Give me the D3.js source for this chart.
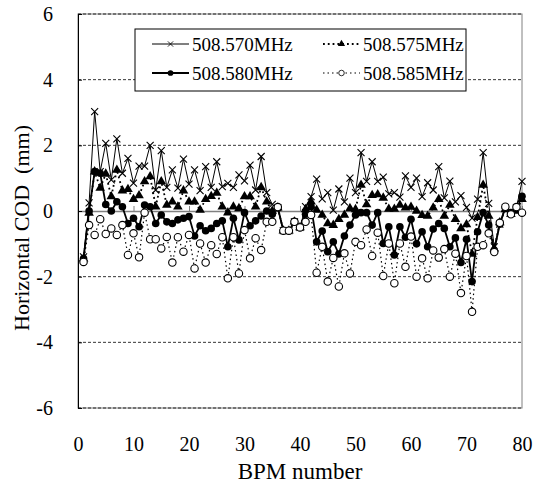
<!DOCTYPE html>
<html>
<head>
<meta charset="utf-8">
<script src="https://cdn.jsdelivr.net/npm/d3@7"></script>
<style>
  body { margin: 0; background: #fff; }
</style>
</head>
<body>
<div id="chart"></div>
<script>
// BPM index on x, horizontal closed orbit distortion (mm) on y
const bpm = [1,2,3,4,5,6,7,8,9,10,11,12,13,14,15,16,17,18,19,20,
  21,22,23,24,25,26,27,28,29,30,31,32,33,34,35,36,37,38,39,40,
  41,42,43,44,45,46,47,48,49,50,51,52,53,54,55,56,57,58,59,60,
  61,62,63,64,65,66,67,68,69,70,71,72,73,74,75,76,77,78,79,80];

const cod570 = [-1.4,0.25,3.03,1.2,2.06,0.95,2.2,1.15,1.6,0.85,
  1.37,1.37,2.0,0.64,1.84,0.72,1.25,0.7,1.58,0.82,
  1.25,0.62,1.35,0.72,1.5,0.74,0.84,0.72,1.1,0.92,
  1.4,0.64,1.66,0.56,0.2,0.1,-0.6,-0.6,-0.33,-0.5,
  0.13,0.44,0.97,0.37,0.56,0.03,0.67,0.28,1.0,0.56,
  1.78,0.9,1.5,0.9,1.03,0.52,0.56,0.42,1.07,0.72,
  1.0,0.44,0.86,0.64,1.35,0.4,0.91,0.28,0.47,0.11,
  -0.22,0.36,1.78,0.23,-1.09,-0.4,0.1,-0.05,0.1,0.9];

const cod575 = [-1.45,-0.06,1.2,0.7,1.13,0.44,1.25,0.62,0.66,0.36,
  0.47,0.9,1.05,0.13,0.9,0.18,0.28,0.13,0.62,0.28,
  0.28,0.03,0.36,0.45,0.55,0.13,-0.05,0.13,0.08,0.44,
  0.44,0.13,0.72,0.28,0.0,0.1,-0.6,-0.6,-0.33,-0.5,
  0.05,0.28,0.03,-0.12,-0.38,-0.43,-0.25,-0.12,0.08,0.05,
  0.79,0.2,0.48,0.5,0.4,0.06,0.06,0.18,0.1,0.12,
  0.0,-0.13,-0.15,0.1,0.36,-0.15,0.18,-0.25,-0.53,-0.41,
  -1.31,-0.19,0.79,-0.15,-1.15,-0.35,0.05,-0.1,0.0,0.36];

const cod580 = [-1.45,0.0,1.2,1.15,0.2,0.0,0.28,0.13,-0.38,-0.22,
  -0.48,0.18,0.13,-0.38,-0.12,-0.33,-0.38,-0.27,-0.22,-0.17,
  -0.76,-0.45,-0.6,-0.53,-0.38,-0.3,-1.09,-0.22,-0.88,-0.05,
  -0.45,-0.3,-0.15,0.0,-0.1,0.1,-0.6,-0.6,-0.33,-0.5,
  -0.1,0.13,-0.94,-0.61,-1.24,-0.94,-1.31,-0.76,-0.43,-0.12,
  -0.05,-0.05,-0.43,-0.05,-0.99,-0.48,-1.34,-0.48,-0.8,-0.25,
  -1.0,-0.63,-1.09,-0.55,-0.38,-0.53,-1.09,-0.82,-1.57,-0.86,
  -2.15,-0.63,-0.05,-0.43,-1.2,-0.4,0.1,-0.05,0.06,0.45];

const cod585 = [-1.55,-0.43,-0.73,-0.25,-0.7,-0.53,-0.73,-0.43,-1.34,-0.68,
  -1.41,-0.05,-0.86,-0.86,-1.14,-0.79,-1.57,-0.8,-1.24,-0.73,
  -1.75,-0.99,-1.57,-1.04,-1.31,-0.8,-2.05,-0.8,-1.9,-0.58,
  -1.44,-0.83,-1.19,-0.33,-0.33,0.12,-0.6,-0.6,-0.33,-0.5,
  -0.33,-0.12,-1.88,-1.09,-2.15,-1.43,-2.3,-1.29,-1.9,-0.94,
  -1.04,-0.56,-1.37,-0.66,-1.98,-0.99,-2.2,-0.99,-1.7,-0.78,
  -2.0,-1.44,-2.05,-1.2,-1.42,-1.16,-2.0,-1.3,-2.5,-1.37,
  -3.07,-1.09,-1.04,-0.68,-1.25,-0.36,0.13,-0.1,0.12,-0.05];

const seriesNames = ['508.570MHz', '508.575MHz', '508.580MHz', '508.585MHz'];
const xTicks = [0, 10, 20, 30, 40, 50, 60, 70, 80];
const yTicks = [-6, -4, -2, 0, 2, 4, 6];

const FONT = '"Liberation Serif", "Times New Roman", Times, serif';
const W = 537, H = 488;
const margin = {top: 14, right: 15, bottom: 80, left: 78};
const innerW = W - margin.left - margin.right;
const innerH = H - margin.top - margin.bottom;

const x = d3.scaleLinear().domain([0, 80]).range([0, innerW]);
const y = d3.scaleLinear().domain([-6, 6]).range([innerH, 0]);

const svg = d3.select('#chart').append('svg')
    .attr('width', W)
    .attr('height', H)
    .attr('font-family', FONT);

const g = svg.append('g')
    .attr('transform', 'translate(' + margin.left + ',' + margin.top + ')');

// plot area frame
g.append('rect')
    .attr('width', innerW)
    .attr('height', innerH)
    .attr('fill', 'none')
    .attr('stroke', '#808080')
    .attr('stroke-width', 1);

// dashed gridlines
g.selectAll('.grid')
    .data(yTicks.filter(v => v !== 0))
    .enter().append('line')
    .attr('class', 'grid')
    .attr('x1', 0)
    .attr('x2', innerW)
    .attr('y1', d => y(d))
    .attr('y2', d => y(d))
    .attr('stroke', '#000')
    .attr('stroke-width', 0.8)
    .attr('stroke-dasharray', '3,2');

// x axis running along zero, ticks pointing up, no labels
const zeroAxis = g.append('g')
    .attr('transform', 'translate(0,' + y(0) + ')')
    .call(d3.axisBottom(x).tickValues(xTicks).tickSize(-5).tickSizeOuter(0).tickFormat(''));
zeroAxis.select('.domain').attr('stroke', '#808080').attr('stroke-width', 1.5);
zeroAxis.selectAll('.tick line').attr('stroke', '#808080');

// x tick labels along the bottom
const xLab = g.append('g')
    .attr('transform', 'translate(0,' + innerH + ')')
    .call(d3.axisBottom(x).tickValues(xTicks).tickSize(0).tickPadding(29).tickFormat(d => String(d)));
xLab.select('.domain').remove();
xLab.attr('font-family', FONT);
xLab.selectAll('text')
    .attr('font-size', 20)
    .attr('fill', '#000');

// y axis
const yAx = g.append('g')
    .call(d3.axisLeft(y).tickValues(yTicks).tickSize(-4).tickSizeOuter(0).tickPadding(25).tickFormat(d => String(d)));
yAx.attr('font-family', FONT);
yAx.select('.domain').attr('stroke', '#000');
yAx.selectAll('.tick line').attr('stroke', '#000');
yAx.selectAll('text')
    .attr('font-size', 20)
    .attr('fill', '#000');

// axis titles
svg.append('text')
    .attr('x', margin.left + innerW / 2)
    .attr('y', 479)
    .attr('text-anchor', 'middle')
    .attr('font-size', 23)
    .text('BPM number');

svg.append('text')
    .attr('transform', 'translate(29,228)rotate(-90)')
    .attr('text-anchor', 'middle')
    .attr('font-size', 22)
    .attr('xml:space', 'preserve')
    .text('Horizontal COD  (mm)');

// series
const series = [
  {name: seriesNames[0], values: cod570, width: 1, dash: null, marker: 'cross'},
  {name: seriesNames[1], values: cod575, width: 1.8, dash: '1.8,3', marker: 'triangle'},
  {name: seriesNames[2], values: cod580, width: 1.8, dash: null, marker: 'dot'},
  {name: seriesNames[3], values: cod585, width: 1.2, dash: '1.5,3', marker: 'ring'}
];

const line = d3.line()
    .x(d => x(d[0]))
    .y(d => y(d[1]));

function drawMarker(sel, type) {
  if (type === 'cross') {
    sel.append('path')
        .attr('d', 'M-3.5,-3.5L3.5,3.5M-3.5,3.5L3.5,-3.5')
        .attr('stroke', '#000')
        .attr('stroke-width', 1.1)
        .attr('fill', 'none');
  } else if (type === 'triangle') {
    sel.append('path')
        .attr('d', d3.symbol(d3.symbolTriangle, 40)())
        .attr('fill', '#000');
  } else if (type === 'dot') {
    sel.append('circle')
        .attr('r', 3.8)
        .attr('fill', '#000');
  } else {
    sel.append('circle')
        .attr('r', 3.7)
        .attr('fill', '#fff')
        .attr('stroke', '#000')
        .attr('stroke-width', 1.1);
  }
}

series.forEach(s => {
  const pts = bpm.map((b, i) => [b, s.values[i]]);
  g.append('path')
      .datum(pts)
      .attr('d', line)
      .attr('fill', 'none')
      .attr('stroke', '#000')
      .attr('stroke-width', s.width)
      .attr('stroke-dasharray', s.dash);
  g.append('g').selectAll('g')
      .data(pts)
      .enter().append('g')
      .attr('transform', d => 'translate(' + x(d[0]) + ',' + y(d[1]) + ')')
      .each(function() { drawMarker(d3.select(this), s.marker); });
});

// legend
const legend = svg.append('g');
legend.append('rect')
    .attr('x', 135)
    .attr('y', 29)
    .attr('width', 331)
    .attr('height', 62)
    .attr('fill', '#fff')
    .attr('stroke', '#000')
    .attr('stroke-width', 1);

const legendPos = [[152, 44], [323, 44], [152, 73], [323, 73]];
series.forEach((s, i) => {
  const [lx, ly] = legendPos[i];
  const item = legend.append('g');
  item.append('line')
      .attr('x1', lx).attr('x2', lx + 37)
      .attr('y1', ly).attr('y2', ly)
      .attr('stroke', '#000')
      .attr('stroke-width', s.width)
      .attr('stroke-dasharray', s.dash);
  const m = item.append('g')
      .attr('transform', 'translate(' + (lx + 18.5) + ',' + ly + ')scale(0.75)');
  drawMarker(m, s.marker);
  item.append('text')
      .attr('x', lx + 40)
      .attr('y', ly)
      .attr('dy', '0.35em')
      .attr('font-size', 19)
      .text(s.name);
});
</script>
</body>
</html>
